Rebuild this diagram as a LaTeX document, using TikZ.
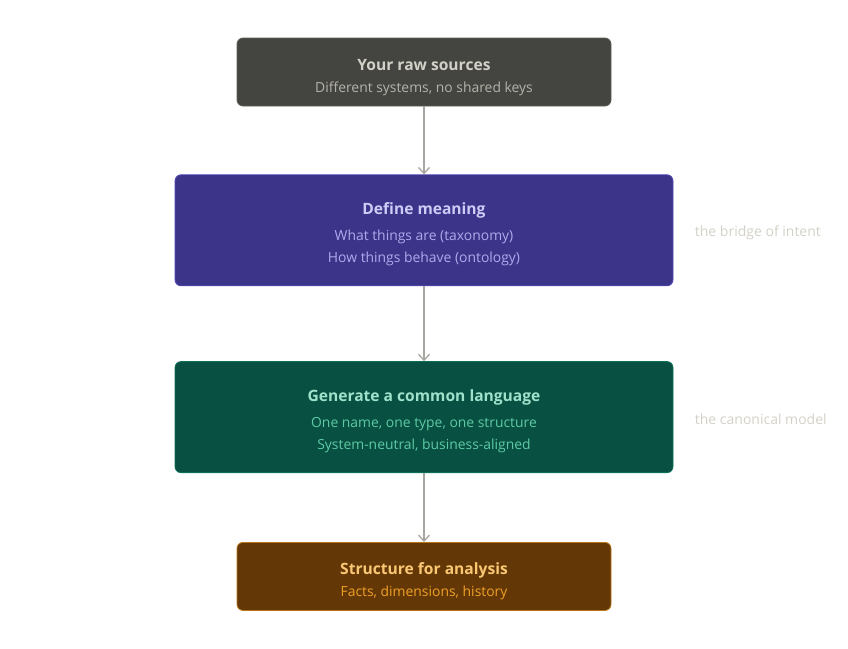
\documentclass[tikz,border=0pt]{standalone}
\usepackage{fontspec}
\setmainfont{Open Sans}
\usepackage{xcolor}
\usetikzlibrary{arrows.meta}
\usetikzlibrary{positioning}

\definecolor{rawFill}{HTML}{444441}
\definecolor{rawLine}{HTML}{5F5E5A}
\definecolor{rawHead}{HTML}{D3D1C7}
\definecolor{rawSub}{HTML}{B4B2A9}
\definecolor{meanFill}{HTML}{3C3489}
\definecolor{meanLine}{HTML}{534AB7}
\definecolor{meanHead}{HTML}{CECBF6}
\definecolor{meanSub}{HTML}{AFA9EC}
\definecolor{langFill}{HTML}{085041}
\definecolor{langLine}{HTML}{0F6E56}
\definecolor{langHead}{HTML}{9FE1CB}
\definecolor{langSub}{HTML}{5DCAA5}
\definecolor{anaFill}{HTML}{633806}
\definecolor{anaLine}{HTML}{BA7517}
\definecolor{anaHead}{HTML}{FAC775}
\definecolor{anaSub}{HTML}{EF9F27}
\definecolor{flowLine}{HTML}{A8A6A0}
\definecolor{noteText}{HTML}{D3D1C7}

\begin{document}
\begin{tikzpicture}[x=1pt, y=-1pt]
    \tikzset{Stage/.style={rectangle, rounded corners=6pt, draw, line width=0.8pt, text centered, inner sep=0pt, font=\fontsize{13.9}{22}\selectfont}};
    \tikzset{Narrow/.style={Stage, minimum width=374pt, minimum height=68pt}};
    \tikzset{Wide/.style={Stage, minimum width=498pt, minimum height=111pt}};
    \tikzset{Note/.style={anchor=west, text=noteText, yshift=-2.5pt, font=\fontsize{14}{16}\selectfont}};
    \tikzset{Flow/.style={draw=flowLine, line width=1.3pt, -{Straight Barb[length=6pt, width=11pt, line width=1.3pt]}}};

    \useasboundingbox (0,0) rectangle (848,648);

    \node[Narrow, fill=rawFill, draw=rawLine, align=center](a)at (424,72){%
      \textcolor{rawHead}{\rule{0pt}{22pt}\fontsize{15.6}{22}\selectfont\bfseries Your raw sources}\\
      \textcolor{rawSub}{Different systems, no shared keys}};
    \node[Wide, fill=meanFill, draw=meanLine, align=center, below=68pt of a](b){%
      \textcolor{meanHead}{\rule{0pt}{19pt}\fontsize{15.6}{22}\selectfont\bfseries Define meaning}\\[4pt]
      \textcolor{meanSub}{What things are (taxonomy)}\\
      \textcolor{meanSub}{How things behave (ontology)}};
    \node[Wide, fill=langFill, draw=langLine, align=center, below=75pt of b](c){%
      \textcolor{langHead}{\rule{0pt}{21pt}\fontsize{15.6}{22}\selectfont\bfseries Generate a common language}\\[4pt]
      \textcolor{langSub}{One name, one type, one structure}\\
      \textcolor{langSub}{System-neutral, business-aligned}};
    \node[Narrow, fill=anaFill, draw=anaLine, align=center, below=69pt of c](d){%
      \textcolor{anaHead}{\rule{0pt}{22pt}\fontsize{15.6}{22}\selectfont\bfseries Structure for analysis}\\
      \textcolor{anaSub}{Facts, dimensions, history}};

    \node[Note, right=18pt of b] (nb) {the bridge of intent};
    \node[Note, right=18pt of c] (nc) {the canonical model};

    \draw[Flow] (a) --(b);
    \draw[Flow] (b) --(c);
    \draw[Flow] (c) --(d);
  \end{tikzpicture}
\end{document}
